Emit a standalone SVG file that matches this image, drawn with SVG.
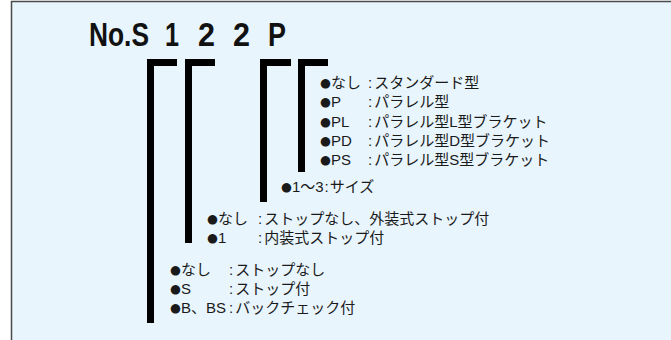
<svg xmlns="http://www.w3.org/2000/svg" width="671" height="340" viewBox="0 0 671 340">
<style>
.t{font-family:"Liberation Sans","Noto Sans CJK JP",sans-serif;font-size:15px;fill:#1a1a1a}
.b{font-family:"DejaVu Sans",sans-serif;font-size:12.5px;baseline-shift:1px}
.ttl{font-family:"Liberation Sans",Arial,sans-serif;font-size:34px;font-weight:bold;fill:#111}
.br{fill:#000}
</style>
<rect x="0" y="0" width="671" height="340" fill="#fff"/>
<rect x="11.5" y="1.5" width="700" height="400" fill="#E8F5FD" stroke="#4a4a4a" stroke-width="1.5"/>
<g id="title">
<text class="ttl" x="89" y="46" textLength="60" lengthAdjust="spacingAndGlyphs">No.S</text>
<text class="ttl" x="165" y="46" textLength="14" lengthAdjust="spacingAndGlyphs">1</text>
<text class="ttl" x="198" y="46" textLength="17" lengthAdjust="spacingAndGlyphs">2</text>
<text class="ttl" x="233" y="46" textLength="17" lengthAdjust="spacingAndGlyphs">2</text>
<text class="ttl" x="268" y="46" textLength="18" lengthAdjust="spacingAndGlyphs">P</text>
</g>
<g id="connectors">
<path class="br" d="M147,59 H177 V66 H154 V323 H147 Z"/>
<path class="br" d="M185,59 H215 V66 H192 V243 H185 Z"/>
<path class="br" d="M260,59 H291 V66 H267 V202 H260 Z"/>
<path class="br" d="M298,59 H328 V66 H305 V172 H298 Z"/>
</g>
<g id="type">
<text class="t" x="320" y="88"><tspan class="b">●</tspan>なし</text><text class="t" x="368" y="88">:<tspan dx="2">スタンダード型</tspan></text>
<text class="t" x="320" y="107"><tspan class="b">●</tspan>P</text><text class="t" x="368" y="107">:<tspan dx="2">パラレル型</tspan></text>
<text class="t" x="320" y="127"><tspan class="b">●</tspan>PL</text><text class="t" x="368" y="127">:<tspan dx="2">パラレル型L型ブラケット</tspan></text>
<text class="t" x="320" y="146"><tspan class="b">●</tspan>PD</text><text class="t" x="368" y="146">:<tspan dx="2">パラレル型D型ブラケット</tspan></text>
<text class="t" x="320" y="165"><tspan class="b">●</tspan>PS</text><text class="t" x="368" y="165">:<tspan dx="2">パラレル型S型ブラケット</tspan></text>
</g>
<g id="size">
<text class="t" x="281" y="192"><tspan class="b">●</tspan>1〜3<tspan dx="1">:</tspan><tspan dx="1">サイズ</tspan></text>
</g>
<g id="stop-mount">
<text class="t" x="207" y="224"><tspan class="b">●</tspan>なし</text><text class="t" x="258" y="224">:<tspan dx="2">ストップなし、外装式ストップ付</tspan></text>
<text class="t" x="207" y="243"><tspan class="b">●</tspan>1</text><text class="t" x="258" y="243">:<tspan dx="2">内装式ストップ付</tspan></text>
</g>
<g id="stop-type">
<text class="t" x="170" y="275"><tspan class="b">●</tspan>なし</text><text class="t" x="229" y="275">:<tspan dx="2">ストップなし</tspan></text>
<text class="t" x="170" y="294"><tspan class="b">●</tspan>S</text><text class="t" x="229" y="294">:<tspan dx="2">ストップ付</tspan></text>
<text class="t" x="170" y="313"><tspan class="b">●</tspan>B、BS</text><text class="t" x="229" y="313">:<tspan dx="2">バックチェック付</tspan></text>
</g>
</svg>
